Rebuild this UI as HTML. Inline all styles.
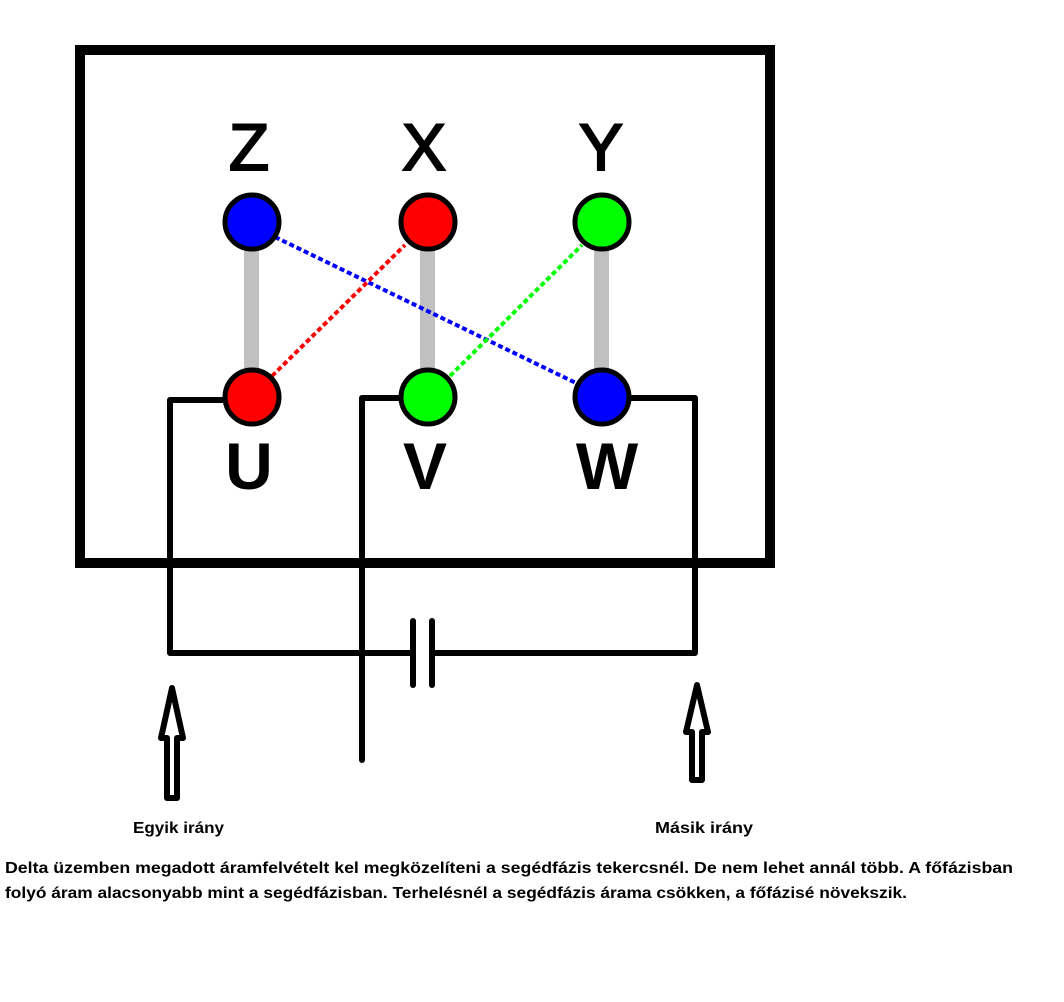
<!DOCTYPE html>
<html><head><meta charset="utf-8"><style>html,body{margin:0;padding:0;background:#fff}svg{display:block}</style></head>
<body>
<svg width="1064" height="1002" viewBox="0 0 1064 1002" xmlns="http://www.w3.org/2000/svg">
<rect x="0" y="0" width="1064" height="1002" fill="#fff"/>
<rect x="80" y="50" width="690" height="513" fill="none" stroke="#000" stroke-width="10"/>
<g fill="#c0c0c0">
<rect x="244" y="250" width="15" height="120"/>
<rect x="420" y="250" width="15" height="120"/>
<rect x="594" y="250" width="15" height="120"/>
</g>
<g stroke-width="4" stroke-dasharray="5,3" fill="none">
<line x1="275" y1="237" x2="578" y2="384" stroke="#0000ff"/>
<line x1="272" y1="376" x2="405" y2="245" stroke="#ff0000"/>
<line x1="450" y1="376" x2="582" y2="245" stroke="#00ff00"/>
</g>
<g stroke="#000" stroke-width="5">
<circle cx="252" cy="222" r="27" fill="#0000ff"/>
<circle cx="428" cy="222" r="27" fill="#ff0000"/>
<circle cx="602" cy="222" r="27" fill="#00ff00"/>
<circle cx="252" cy="397" r="27" fill="#ff0000"/>
<circle cx="428" cy="397" r="27" fill="#00ff00"/>
<circle cx="602" cy="397" r="27" fill="#0000ff"/>
</g>
<g font-family="Liberation Sans, sans-serif" font-size="66" text-anchor="middle" fill="#000">
<text x="249" y="170" stroke="#000" stroke-width="2">Z</text>
<text x="424" y="170" stroke="#000" stroke-width="2">X</text>
<text x="601" y="170" stroke="#000" stroke-width="2">Y</text>
<text x="249" y="489" font-weight="bold">U</text>
<text x="425" y="489" font-weight="bold">V</text>
<text x="607" y="489" font-weight="bold">W</text>
</g>
<g stroke="#000" stroke-width="6" fill="none" stroke-linejoin="round" stroke-linecap="round">
<polyline points="224,400 170,400 170,653 410,653"/>
<polyline points="434,653 695,653 695,398 630,398"/>
<polyline points="400,398 362,398 362,760"/>
<line x1="413" y1="621" x2="413" y2="685"/>
<line x1="432" y1="621" x2="432" y2="685"/>
</g>
<g stroke="#000" stroke-width="6" fill="#fff" stroke-linejoin="round">
<path d="M172,688 L183,738 L177,738 L177,798 L167,798 L167,738 L161,738 Z"/>
<path d="M697,685 L708,732 L702,732 L702,780 L692,780 L692,732 L686,732 Z"/>
</g>
<g font-family="Liberation Sans, sans-serif" font-size="16" font-weight="bold" fill="#000">
<text x="133" y="833" textLength="91" lengthAdjust="spacingAndGlyphs">Egyik irány</text>
<text x="655" y="833" textLength="98" lengthAdjust="spacingAndGlyphs">Másik irány</text>
<text x="5" y="873" textLength="1008" lengthAdjust="spacingAndGlyphs">Delta üzemben megadott áramfelvételt kel megközelíteni a segédfázis tekercsnél. De nem lehet annál több. A főfázisban</text>
<text x="5" y="898" textLength="902" lengthAdjust="spacingAndGlyphs">folyó áram alacsonyabb mint a segédfázisban. Terhelésnél a segédfázis árama csökken, a főfázisé növekszik.</text>
</g>
</svg>
</body></html>
